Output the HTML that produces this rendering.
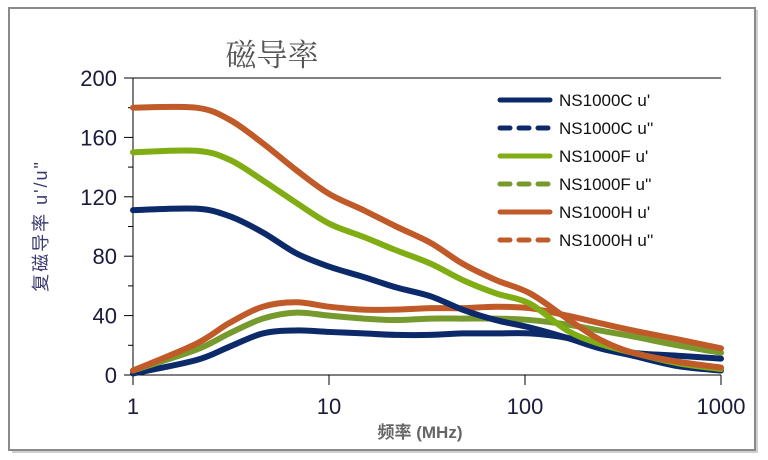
<!DOCTYPE html>
<html><head><meta charset="utf-8"><style>
body{margin:0;background:#fff;}
svg{display:block;font-family:"Liberation Sans","Noto Sans CJK SC",sans-serif;}
</style></head><body>
<svg id="chart" width="768" height="460" viewBox="0 0 768 460">
<rect x="12" y="10" width="746" height="443" fill="#cfcfcf"/>
<rect x="9" y="8" width="746" height="442" fill="#fff" stroke="#8a8a8a" stroke-width="2"/>
<text x="272" y="66" font-size="31" fill="#555" text-anchor="middle" font-family="'Noto Serif CJK SC','Noto Sans CJK SC',serif">磁导率</text>
<text transform="translate(47,226) rotate(-90)" font-size="18" fill="#3b3b70" text-anchor="middle" letter-spacing="2">复磁导率 u'/u"</text>
<text x="420" y="438" font-size="17" fill="#666" text-anchor="middle" font-weight="bold">频率 (MHz)</text>
<g id="axes"></g>
<g id="series"></g>
<g id="legend"></g>
</svg>
<script>
const yTicks=[0,40,80,120,160,200];
const yMinor=[20,60,100,140,180];
const xTicks=[1,10,100,1000];
const xLabels=["1","10","100","1000"];
const seriesNames=["NS1000C u'","NS1000C u''","NS1000F u'","NS1000F u''","NS1000H u'","NS1000H u''"];
const seriesColors=["#0c2a6a","#0c2a6a","#80ad14","#779a2e","#c05a28","#c05a28"];
const freq=[1,2.1,3.1,4.6,6.8,10,15,22,33,48,71,106,164,240,355,600,1000];
const hPrime=[180,180,172,156,138,122,111,100,89,75,64,55,38,24,15,9,5];
const fPrime=[150,151,145,131,116,102,93,84,75,64,55,48,30,21,15,8,4];
const cPrime=[111,112,107,96,82,73,66,59,53,44,37,32,25,18,13,6,3];
const hDouble=[3,21,35,46,49,46,44,44,45,45,46,45,40,35,30,24,18];
const fDouble=[3,17,28,38,42,40,38,37,38,38,38,37,34,30,26,20,15];
const cDouble=[1,10,19,28,30,29,28,27,27,28,28,28,25,20,15,13,11];

const X0=133,X1=721,Y0=375,Y1=78;
const xs=v=>X0+Math.log10(v)/3*(X1-X0);
const ys=v=>Y0-v/200*(Y0-Y1);
const NS="http://www.w3.org/2000/svg";
function mk(tag,attrs,parent){const e=document.createElementNS(NS,tag);for(const k in attrs)e.setAttribute(k,attrs[k]);parent.appendChild(e);return e;}
const axes=document.getElementById('axes');
let l=mk('line',{x1:X0,y1:Y1,x2:X1,y2:Y1,stroke:'#000','stroke-width':1},axes);


l=mk('line',{x1:X0,y1:Y1,x2:X0,y2:Y0,stroke:'#000','stroke-width':1},axes);


l=mk('line',{x1:X0,y1:Y0,x2:X1,y2:Y0,stroke:'#000','stroke-width':1},axes);


yTicks.forEach(v=>{
 const t=mk('line',{x1:X0-9,y1:ys(v),x2:X0,y2:ys(v),stroke:'#000'},axes);
 
 
 const tx=mk('text',{x:117,y:ys(v)+8,'font-size':22,'text-anchor':'end',fill:'#1a1a3a'},axes);
 tx.textContent=v;
 
 
});
yMinor.forEach(v=>{
 const t=mk('line',{x1:X0-5,y1:ys(v),x2:X0,y2:ys(v),stroke:'#000'},axes);
 
 
});
xTicks.forEach((v,i)=>{
 const t=mk('line',{x1:xs(v),y1:Y0,x2:xs(v),y2:Y0+10,stroke:'#000'},axes);
 
 
 const tx=mk('text',{x:xs(v),y:414,'font-size':22,'text-anchor':'middle',fill:'#1a1a3a'},axes);
 tx.textContent=xLabels[i];
 
 
});
const sg=document.getElementById('series');
function curve(fr,vals,color,name){
 const pts=fr.map((f,i)=>[xs(f),ys(vals[i])]);
 let d='M'+pts[0][0]+','+pts[0][1];
 for(let i=0;i<pts.length-1;i++){
  const p0=pts[i-1]||pts[i],p1=pts[i],p2=pts[i+1],p3=pts[i+2]||p2;
  const c1=[p1[0]+(p2[0]-p0[0])/6,p1[1]+(p2[1]-p0[1])/6];
  const c2=[p2[0]-(p3[0]-p1[0])/6,p2[1]-(p3[1]-p1[1])/6];
  d+=` C${c1[0]},${c1[1]} ${c2[0]},${c2[1]} ${p2[0]},${p2[1]}`;
 }
 const p=mk('path',{d:d,fill:'none',stroke:color,'stroke-width':6,'stroke-linecap':'round','stroke-linejoin':'round'},sg);
 
 
}
curve(freq,cDouble,seriesColors[1],'series-ns1000c-u-double-prime');
curve(freq,fDouble,seriesColors[3],'series-ns1000f-u-double-prime');
curve(freq,hDouble,seriesColors[5],'series-ns1000h-u-double-prime');
curve(freq,cPrime,seriesColors[0],'series-ns1000c-u-prime');
curve(freq,fPrime,seriesColors[2],'series-ns1000f-u-prime');
curve(freq,hPrime,seriesColors[4],'series-ns1000h-u-prime');
const lg=document.getElementById('legend');
seriesNames.forEach((n,i)=>{
 const y=100+i*28;
 const g=mk('g',{},lg);
 
 
 const ln=mk('line',{x1:500,y1:y,x2:550,y2:y,stroke:seriesColors[i],'stroke-width':5,'stroke-linecap':'round'},g);
 if(i%2===1)ln.setAttribute('stroke-dasharray','10 9');
 
 
 const t=mk('text',{x:559,y:y+6,'font-size':17,fill:'#111'},g);
 t.textContent=n;
 
 
});
</script>
</body></html>
